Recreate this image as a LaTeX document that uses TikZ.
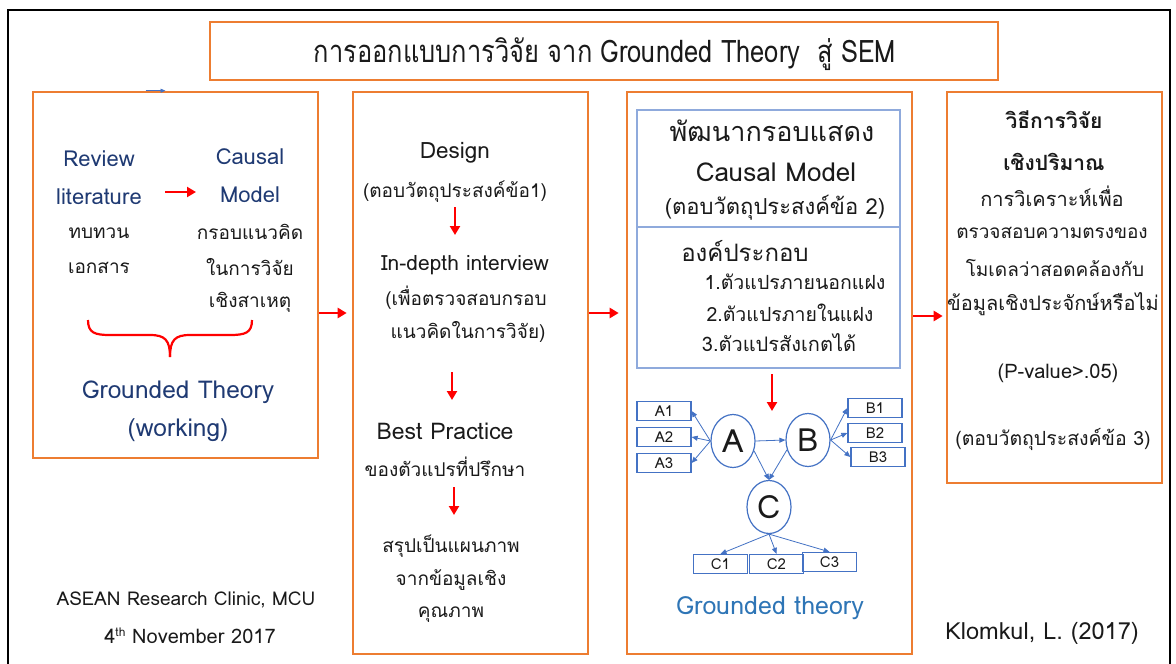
\documentclass[tikz,border=0pt]{standalone}
\usepackage{fontspec}
\setmainfont[Script=Thai]{Loma}
\newfontfamily\titlefont[Script=Thai,FakeStretch=0.82]{Loma}
\usetikzlibrary{arrows.meta,shapes.geometric}
\definecolor{orangeC}{HTML}{ED7D31}
\definecolor{boxblue}{HTML}{8FAADC}
\definecolor{semblue}{HTML}{4472C4}
\definecolor{navy}{HTML}{1F3A73}
\definecolor{gtblue}{HTML}{2E75B6}
\definecolor{txt}{HTML}{1A1A1A}
\begin{document}
\begin{tikzpicture}[x=1pt,y=-1pt,
 obox/.style={draw=orangeC,line width=2.6pt,rectangle,inner sep=0},
 tx/.style={inner sep=0,font=\fontsize{19}{22}\selectfont,text=txt},
 fs/.style={font=\fontsize{#1}{#1}\selectfont},
 fsb/.style={font=\fontsize{#1}{#1}\selectfont\bfseries},
 redarr/.style={draw=red,line width=2.6pt,-{Triangle[length=9pt,width=10pt]}},
 semarr/.style={draw=semblue,line width=0.8pt,-{Triangle[length=6pt,width=5pt]}},
 sembox/.style={draw=semblue,line width=1.3pt,rectangle,inner sep=0,minimum width=54pt,minimum height=19pt,font=\fontsize{15}{15}\selectfont,text=txt},
 semell/.style={draw=semblue,line width=1.2pt,ellipse,inner sep=0,minimum width=44pt,minimum height=53pt,font=\fontsize{32}{32}\selectfont,text=txt}]
\useasboundingbox (0,0) rectangle (1176,664);
\fill[white] (0,0) rectangle (1176,664);
% outer frame
\draw[black,line width=1.8pt] (8,664) -- (8,10) -- (1170,10) -- (1170,664);
% title
\node[obox,minimum width=788pt,minimum height=58pt] (title) at (604,51) {};
\node[inner sep=0,font=\titlefont\fontsize{31}{34}\selectfont,text=txt] (titletext) at (605,54) {การออกแบบการวิจัย จาก Grounded Theory\ \ สู่ SEM};
% boxes
\node[obox,minimum width=285pt,minimum height=366pt] (box1) at (175.5,275) {};
\node[obox,minimum width=235pt,minimum height=562pt] (box2) at (470.5,373) {};
\node[obox,minimum width=285pt,minimum height=562pt] (box3) at (769.5,373) {};
\node[obox,minimum width=215pt,minimum height=391pt] (box4) at (1054.5,287.5) {};
% connectors between boxes
\draw[redarr] ([yshift=-38pt]box1.east) -- ([yshift=60pt,xshift=-5pt]box2.west);
\draw[redarr] ([yshift=60pt]box2.east) -- ([yshift=60pt,xshift=-7pt]box3.west);
\draw[redarr] ([yshift=57pt]box3.east) -- ([yshift=-28.5pt,xshift=-3pt]box4.west);
% tiny blue arrow on box1 top
\draw[semblue,line width=0.8pt,-{Triangle[length=5pt,width=4pt]}] ([xshift=-30pt]box1.north) -- ([xshift=-10pt]box1.north);
% box1 content
\node[tx,fs=22,text=navy] (rev) at (99,159) {Review};
\node[tx,fs=22,text=navy] (lit) at (99,197) {literature};
\node[tx] (tb) at (99,233) {ทบทวน};
\node[tx] (ek) at (99,268) {เอกสาร};
\node[tx,fs=22,text=navy] (cau) at (250,157) {Causal};
\node[tx,fs=22,text=navy] (mod) at (250,195) {Model};
\node[tx] (kr) at (250,232) {กรอบแนวคิด};
\node[tx] (nk) at (250,267) {ในการวิจัย};
\node[tx] (cs) at (250,302) {เชิงสาเหตุ};
\coordinate (r1s) at (165,192);
\coordinate (r1e) at (196,192);
\draw[redarr] (r1s) -- (r1e);
\draw[red,line width=2.2pt] (88,320) .. controls (88,333) and (95,335) .. (110,335) -- (150,335) .. controls (165,335) and (170,340) .. (170,357);
\draw[red,line width=2.2pt] (252,320) .. controls (252,333) and (245,335) .. (230,335) -- (190,335) .. controls (175,335) and (170,340) .. (170,357);
\node[tx,text=navy,fs=24.5] (gt) at (178,392) {Grounded Theory};
\node[tx,text=navy,fs=24.5] (gtw) at (178,430) {(working)};
% box2 content
\node[tx,fs=22.5] (des) at (455,153) {Design};
\node[tx] (obj1) at (455,192) {(ตอบวัตถุประสงค์ข้อ1)};
\coordinate (r2s) at (455,207);
\coordinate (r2e) at (455,235);
\draw[redarr] (r2s) -- (r2e);
\node[tx,fs=21] (idi) at (465,265) {In-depth interview};
\node[tx] (idi2) at (466,298) {(เพื่อตรวจสอบกรอบ};
\node[tx] (idi3) at (468,332) {แนวคิดในการวิจัย)};
\coordinate (r3s) at (452,372);
\coordinate (r3e) at (452,400);
\draw[redarr] (r3s) -- (r3e);
\node[tx,fs=23] (bp) at (445,431) {Best Practice};
\node[tx] (bp2) at (445,467) {ของตัวแปรที่ปรึกษา};
\coordinate (r4s) at (454,487);
\coordinate (r4e) at (454,515);
\draw[redarr] (r4s) -- (r4e);
\node[tx] (sm1) at (451,546) {สรุปเป็นแผนภาพ};
\node[tx] (sm2) at (451,580) {จากข้อมูลเชิง};
\node[tx] (sm3) at (451,615) {คุณภาพ};
% box3 content
\node[draw=boxblue,line width=1.3pt,rectangle,inner sep=0,minimum width=263pt,minimum height=258pt] (inner) at (768.5,239) {};
\draw[boxblue,line width=1.3pt] ([yshift=12pt]inner.west) -- ([yshift=12pt]inner.east);
\node[tx,fs=27] (pk) at (772,131) {พัฒนากรอบแสดง};
\node[tx,fs=26] (cm) at (776,172) {Causal Model};
\node[tx,fs=22] (obj2) at (775,208) {(ตอบวัตถุประสงค์ข้อ 2)};
\node[tx,fs=24] (ok) at (745,251) {องค์ประกอบ};
\node[tx,fs=19.5] (v1) at (795,282) {1.ตัวแปรภายนอกแฝง};
\node[tx,fs=19.5] (v2) at (790,313) {2.ตัวแปรภายในแฝง};
\node[tx,fs=20] (v3) at (779,343) {3.ตัวแปรสังเกตได้};
\coordinate (r5s) at (772,374);
\coordinate (r5e) at (772,411);
\draw[redarr] (r5s) -- (r5e);
% SEM
\node[semell] (A) at (733,441) {A};
\node[semell] (B) at (808,440) {B};
\node[semell] (C) at (769,507) {C};
\node[sembox] (A1) at (664,411) {A1};
\node[sembox] (A2) at (664,437) {A2};
\node[sembox] (A3) at (664,463) {A3};
\node[sembox] (B1) at (875,408) {B1};
\node[sembox] (B2) at (875,433) {B2};
\node[sembox] (B3) at (878,457) {B3};
\node[sembox] (C1) at (720.5,564) {C1};
\node[sembox] (C2) at (776.5,564) {C2};
\node[sembox] (C3) at (829.5,562) {C3};
\foreach \t in {A1,A2,A3} \draw[semarr] (A.west) -- (\t.east);
\foreach \t in {B1,B2,B3} \draw[semarr] (B.east) -- (\t.west);
\foreach \t in {C1,C2,C3} \draw[semarr] (C.south) -- (\t.north);
\draw[semarr] (A.east) -- (B.west);
\draw[semarr] (A.-25) -- (C.north);
\draw[semarr] (B.205) -- (C.north);
\node[tx,text=gtblue,fs=25] (gt2) at (770,608) {Grounded theory};
% box4 content
\node[tx,fsb=21] (q1) at (1054,120) {วิธีการวิจัย};
\node[tx,fsb=21] (q2) at (1054,162) {เชิงปริมาณ};
\node[tx,fs=20] (q3) at (1052,196) {การวิเคราะห์เพื่อ};
\node[tx,fs=19] (q4) at (1052,233) {ตรวจสอบความตรงของ};
\node[tx,fs=19] (q5) at (1055,268) {โมเดลว่าสอดคล้องกับ};
\node[tx,fs=20] (q6) at (1053,304) {ข้อมูลเชิงประจักษ์หรือไม่};
\node[tx,fs=20] (q7) at (1058,373) {(P-value>.05)};
\node[tx,fs=19.5] (q8) at (1053,439) {(ตอบวัตถุประสงค์ข้อ 3)};
% footer
\node[tx,fs=19] (f1) at (186,600) {ASEAN Research Clinic, MCU};
\node[tx,fs=20] (f2) at (190,636) {4\raisebox{0.7ex}{\fontsize{12}{12}\selectfont th} November 2017};
\node[tx,fs=23.5] (f3) at (1042,633) {Klomkul, L. (2017)};
\end{tikzpicture}
\end{document}
